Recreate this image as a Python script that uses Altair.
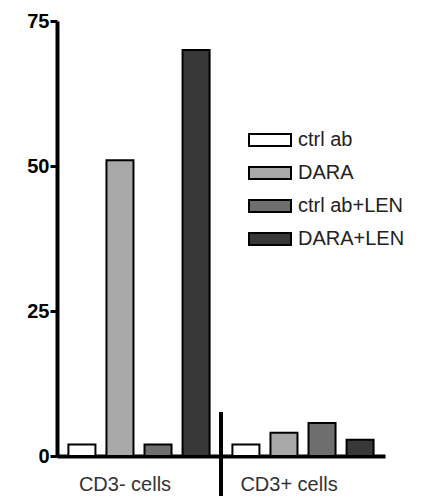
import altair as alt
import pandas as pd

groups = ["CD3- cells", "CD3+ cells"]
series = ["ctrl ab", "DARA", "ctrl ab+LEN", "DARA+LEN"]
values_cd3neg = [2.0, 51.0, 2.0, 70.0]
values_cd3pos = [2.0, 4.0, 5.7, 2.8]
y_ticks = [0, 25, 50, 75]
fills = ["#ffffff", "#a8a8a8", "#6e6e6e", "#383838"]

rows = []
for g, vals in zip(groups, [values_cd3neg, values_cd3pos]):
    for s, v in zip(series, vals):
        rows.append({"group": g, "series": s, "value": v})
df = pd.DataFrame(rows)

FONT = "Liberation Sans"

bars = alt.Chart(df).mark_bar(stroke="black", strokeWidth=2).encode(
    x=alt.X("group:N", sort=groups,
            scale=alt.Scale(paddingInner=0, paddingOuter=0),
            axis=alt.Axis(title=None, labels=False, ticks=False, domainWidth=4,
                          domainColor="black")),
    xOffset=alt.XOffset("series:N", sort=series,
                        scale=alt.Scale(paddingInner=0.29, paddingOuter=0.3)),
    y=alt.Y("value:Q", scale=alt.Scale(domain=[0, 75], nice=False),
            axis=alt.Axis(title=None, values=y_ticks, grid=False, domainWidth=4,
                          domainColor="black", tickColor="black", tickWidth=3,
                          tickSize=7, labelPadding=1, labelFont=FONT,
                          labelFontWeight="bold", labelFontSize=20,
                          labelColor="black")),
    fill=alt.Fill("series:N", sort=series,
                  scale=alt.Scale(domain=series, range=fills),
                  legend=alt.Legend(title=None, orient="none", legendX=191, legendY=97,
                                    symbolType="M-1,-0.29L1,-0.29L1,0.29L-1,0.29Z",
                                    symbolSize=1764, symbolStrokeColor="black",
                                    symbolStrokeWidth=2, symbolOpacity=1,
                                    labelFont=FONT, labelFontSize=20,
                                    labelColor="#222222", labelOffset=6,
                                    rowPadding=-3)),
)

lab_df = pd.DataFrame({"group": groups})
labels = alt.Chart(lab_df).mark_text(
    font=FONT, fontSize=20, color="#333333", dx=-14, baseline="middle"
).encode(
    x=alt.X("group:N", sort=groups),
    y=alt.value(464),
    text="group:N",
)

sep_df = pd.DataFrame({"group": [groups[1]]})
sep = alt.Chart(sep_df).mark_rule(color="black", strokeWidth=4, clip=False).encode(
    x=alt.X("group:N", sort=groups, bandPosition=0),
    y=alt.value(391),
    y2=alt.value(490),
)

chart = alt.layer(bars, labels, sep).properties(
    width=328, height=435,
    autosize=alt.AutoSizeParams(type="none"),
    padding={"left": 49, "top": 13, "right": 33, "bottom": 40},
).configure_view(stroke=None)

chart.save("out.html", embed_options={"renderer": "svg", "actions": False})
